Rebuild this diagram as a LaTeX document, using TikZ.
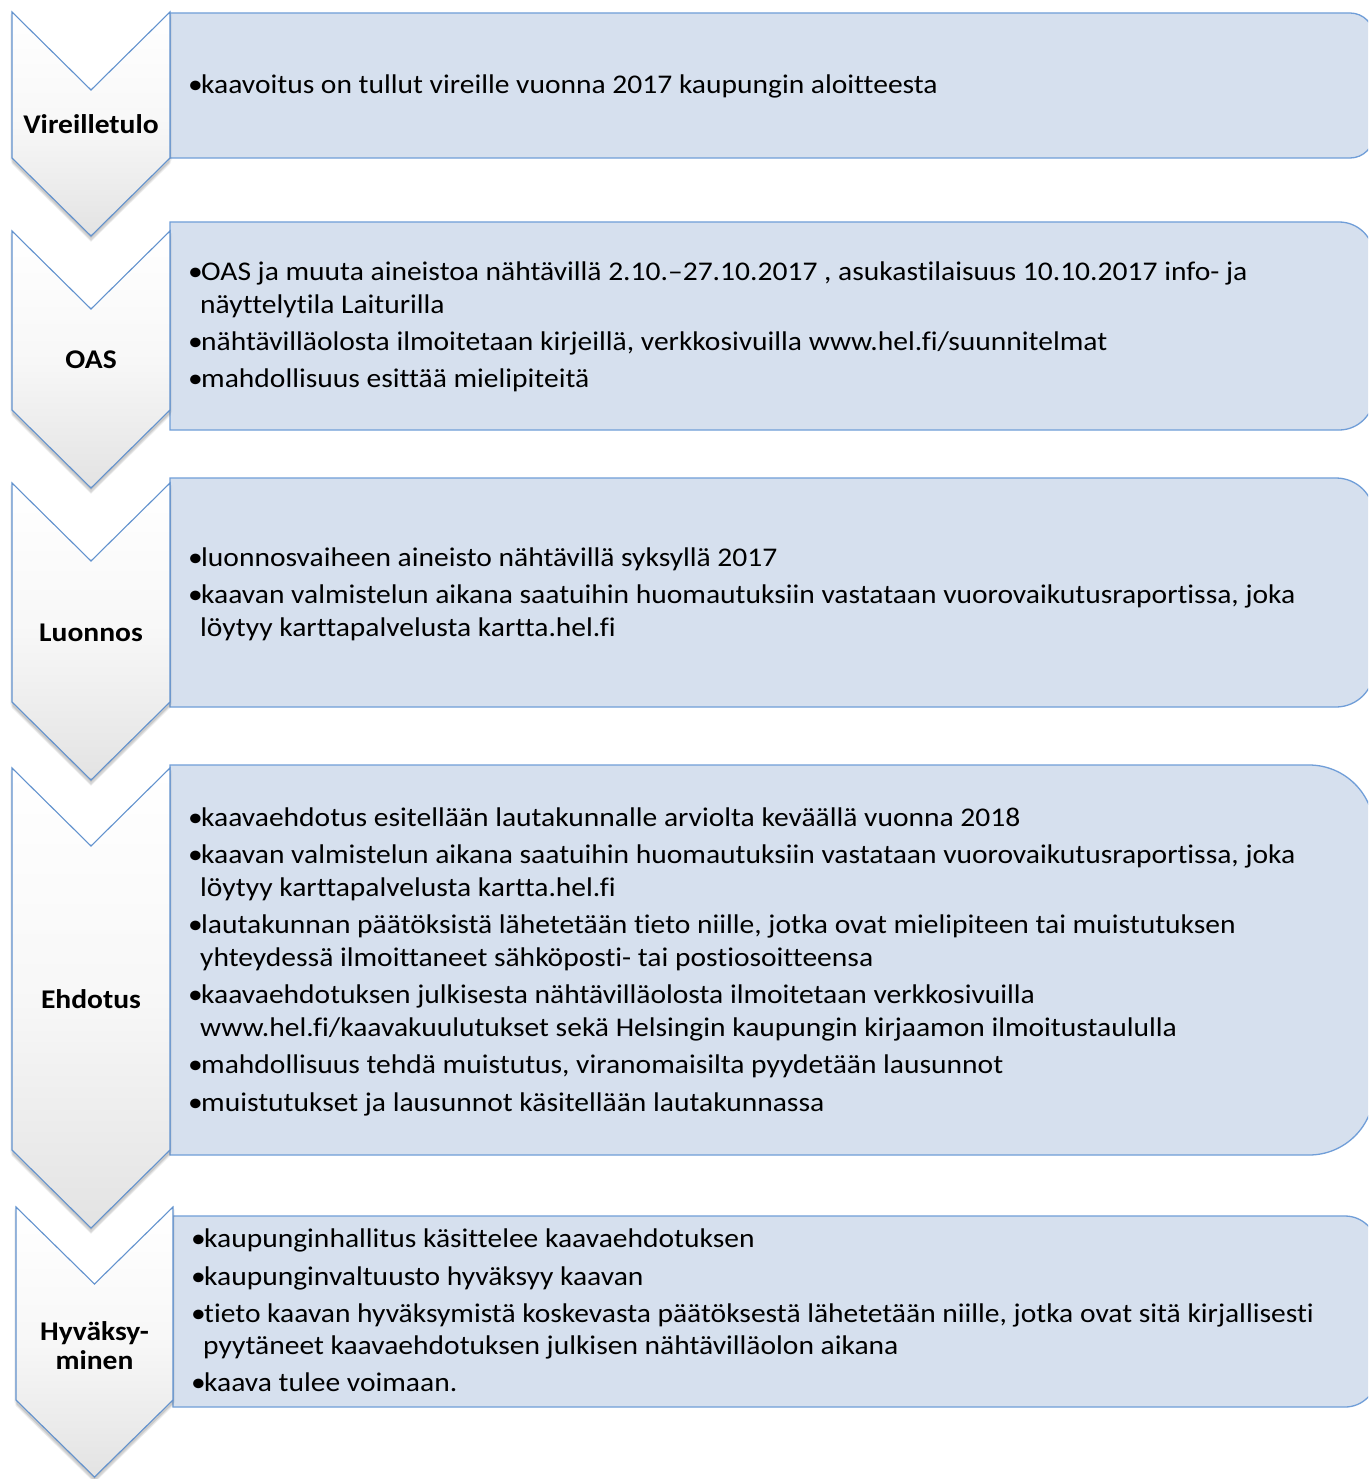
\documentclass[tikz,border=0pt]{standalone}
\usepackage{fontspec}
\setmainfont{Carlito}[FakeStretch=1.094, Ligatures={NoCommon}]
\definecolor{boxfill}{RGB}{214,224,238}
\definecolor{boxline}{RGB}{112,158,216}
\definecolor{chevline}{RGB}{98,146,206}
\tikzset{
  boxstyle/.style={fill=boxfill, draw=boxline, line width=1.3pt},
  chevstyle/.style={top color=white, bottom color=black!11, middle color=white!97!black, draw=chevline, line width=1.1pt, line join=miter},
  txt/.style={anchor=base west, inner sep=0pt, font=\fontsize{27}{32}\selectfont},
  bul/.style={anchor=base west, inner sep=0pt, font=\fontsize{27}{32}\selectfont},
  lab/.style={anchor=base, inner sep=0pt, font=\fontsize{27}{32}\selectfont\bfseries}
}
\newcommand\stagebox[6]{%
  \pgfmathsetmacro\ka{#6*0.5523}%
  \draw[boxstyle] (#2,#3) -- ({#4-#6},#3) .. controls ({#4-#6+\ka},#3) and (#4,{#3+#6-\ka}) .. (#4,{#3+#6}) -- (#4,{#5-#6}) .. controls (#4,{#5-#6+\ka}) and ({#4-#6+\ka},#5) .. ({#4-#6},#5) -- (#2,#5) -- cycle;
  \coordinate (#1) at (#2,#3);}
\newcommand\chev[6]{%
  \pgfmathsetmacro\xm{(#2+#3)/2}%
  \foreach \dx/\dy in {-2/2,0/4,2/2,0/6,-1/5,1/5}{%
    \fill[black,opacity=0.045] ({#2+\dx},{#4+\dy}) -- (\xm,{#4+#6+\dy}) -- ({#3+\dx},{#4+\dy}) -- ({#3+\dx},{#5+\dy}) -- (\xm,{#5+#6+\dy}) -- ({#2+\dx},{#5+\dy}) -- cycle;}
  \draw[chevstyle] (#2,#4) -- (\xm,{#4+#6}) -- (#3,#4) -- (#3,#5) -- (\xm,{#5+#6}) -- (#2,#5) -- cycle;
  \coordinate (#1) at (\xm,#4);}
\newcommand\bl[4]{\node[bul] (#1b) at ({#2-13},#3) {•}; \node[txt] (#1) at (#2,#3) {#4};}
\newcommand\cl[4]{\node[txt] (#1) at (#2,#3) {#4};}
\begin{document}
\begin{tikzpicture}[x=1pt,y=-1pt]
\useasboundingbox (0,0) rectangle (1368,1479);
\clip (0,0) rectangle (1368,1479);
\fill[white] (0,0) rectangle (1368,1479);
% boxes
\stagebox{boxA}{170}{13}{1374}{158}{24}
\stagebox{boxB}{170}{222}{1374}{430}{35}
\stagebox{boxC}{170}{478}{1374}{707}{38}
\stagebox{boxD}{170}{765}{1374}{1155}{65}
\stagebox{boxE}{173}{1216}{1377}{1407}{32}
% chevrons
\chev{chA}{12}{170}{12}{158}{78}
\chev{chB}{12}{170}{231}{410}{78}
\chev{chC}{12}{170}{483}{702}{78}
\chev{chD}{12}{170}{768}{1150}{78}
\chev{chE}{16}{173}{1207}{1400}{77}
% labels
\node[lab] (lA) at (91,134) {Vireilletulo};
\node[lab] (lB) at (91,368) {OAS};
\node[lab] (lC) at (91,641) {Luonnos};
\node[lab] (lD) at (91,1008) {Ehdotus};
\node[lab] (lE1) at (94.5,1340) {Hyväksy-};
\node[lab] (lE2) at (94.5,1369) {minen};
% box 1
\bl{a1}{201}{94}{kaavoitus on tullut vireille vuonna 2017 kaupungin aloitteesta}
% box 2
\bl{b1}{201}{280}{OAS ja muuta aineistoa nähtävillä 2.10.–27.10.2017 , asukastilaisuus 10.10.2017 info- ja}
\cl{b1c}{200}{313}{näyttelytila Laiturilla}
\bl{b2}{201}{350}{nähtävilläolosta ilmoitetaan kirjeillä, verkkosivuilla www.hel.fi/suunnitelmat}
\bl{b3}{201}{387}{mahdollisuus esittää mielipiteitä}
% box 3
\bl{c1}{201}{566}{luonnosvaiheen aineisto nähtävillä syksyllä 2017}
\bl{c2}{201}{603}{kaavan valmistelun aikana saatuihin huomautuksiin vastataan vuorovaikutusraportissa, joka}
\cl{c2c}{200}{636}{löytyy karttapalvelusta kartta.hel.fi}
% box 4
\bl{d1}{201}{826}{kaavaehdotus esitellään lautakunnalle arviolta keväällä vuonna 2018}
\bl{d2}{201}{863}{kaavan valmistelun aikana saatuihin huomautuksiin vastataan vuorovaikutusraportissa, joka}
\cl{d2c}{200}{896}{löytyy karttapalvelusta kartta.hel.fi}
\bl{d3}{201}{933}{lautakunnan päätöksistä lähetetään tieto niille, jotka ovat mielipiteen tai muistutuksen}
\cl{d3c}{200}{966}{yhteydessä ilmoittaneet sähköposti- tai postiosoitteensa}
\bl{d4}{201}{1003}{kaavaehdotuksen julkisesta nähtävilläolosta ilmoitetaan verkkosivuilla}
\cl{d4c}{200}{1036}{www.hel.fi/kaavakuulutukset sekä Helsingin kaupungin kirjaamon ilmoitustaululla}
\bl{d5}{201}{1073}{mahdollisuus tehdä muistutus, viranomaisilta pyydetään lausunnot}
\bl{d6}{201}{1111}{muistutukset ja lausunnot käsitellään lautakunnassa}
% box 5
\bl{e1}{204}{1247}{kaupunginhallitus käsittelee kaavaehdotuksen}
\bl{e2}{204}{1285}{kaupunginvaltuusto hyväksyy kaavan}
\bl{e3}{204}{1322}{tieto kaavan hyväksymistä koskevasta päätöksestä lähetetään niille, jotka ovat sitä kirjallisesti}
\cl{e3c}{203}{1354}{pyytäneet kaavaehdotuksen julkisen nähtävilläolon aikana}
\bl{e4}{204}{1391}{kaava tulee voimaan.}
\end{tikzpicture}
\end{document}
